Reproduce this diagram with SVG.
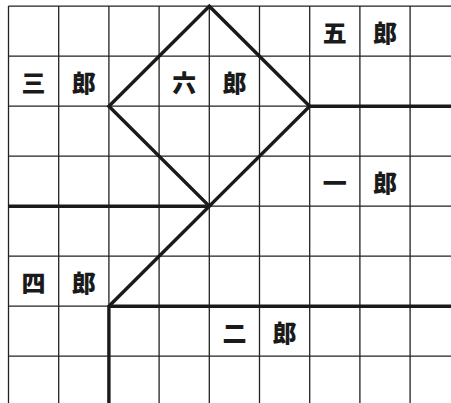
<svg xmlns="http://www.w3.org/2000/svg" width="451" height="403" viewBox="0 0 451 403">
<style>
.g{stroke:#222;stroke-width:1.3;fill:none}
.t{stroke:#1a1a1a;stroke-width:3.4;fill:none;stroke-linejoin:miter;stroke-linecap:butt}
text{font-family:"Noto Sans CJK JP","Noto Sans CJK SC",sans-serif;font-weight:900;font-size:24px;fill:#1a1a1a;text-anchor:middle;dominant-baseline:central}
</style>
<rect width="451" height="403" fill="#fff"/>
<g id="grid" class="g">
<path d="M8.5 6V403M58.7 6V403M108.9 6V403M159.1 6V403M209.3 6V403M259.5 6V403M309.7 6V403M359.9 6V403M410.1 6V403"/>
<path d="M8.5 6.2H451M8.5 56.2H451M8.5 106.2H451M8.5 156.2H451M8.5 206.2H451M8.5 256.2H451M8.5 306.2H451M8.5 356.2H451"/>
</g>
<g id="connectors" class="t">
<path d="M209.3 6.2L108.9 106.2L209.3 206.2L309.7 106.2Z"/>
<path d="M309.7 106.2H451"/>
<path d="M8.5 206.2H209.3L108.9 306.2V403"/>
<path d="M108.9 306.2H451"/>
</g>
<g id="goro"><text x="334.8" y="31.5">五</text><text x="385" y="31.5">郎</text></g>
<g id="saburo"><text x="33.6" y="81.5">三</text><text x="83.8" y="81.5">郎</text></g>
<g id="rokuro"><text x="184.2" y="81.5">六</text><text x="234.4" y="81.5">郎</text></g>
<g id="ichiro"><text x="334.8" y="181.5">一</text><text x="385" y="181.5">郎</text></g>
<g id="shiro"><text x="33.6" y="281.5">四</text><text x="83.8" y="281.5">郎</text></g>
<g id="jiro"><text x="234.4" y="331.5">二</text><text x="284.6" y="331.5">郎</text></g>
</svg>
